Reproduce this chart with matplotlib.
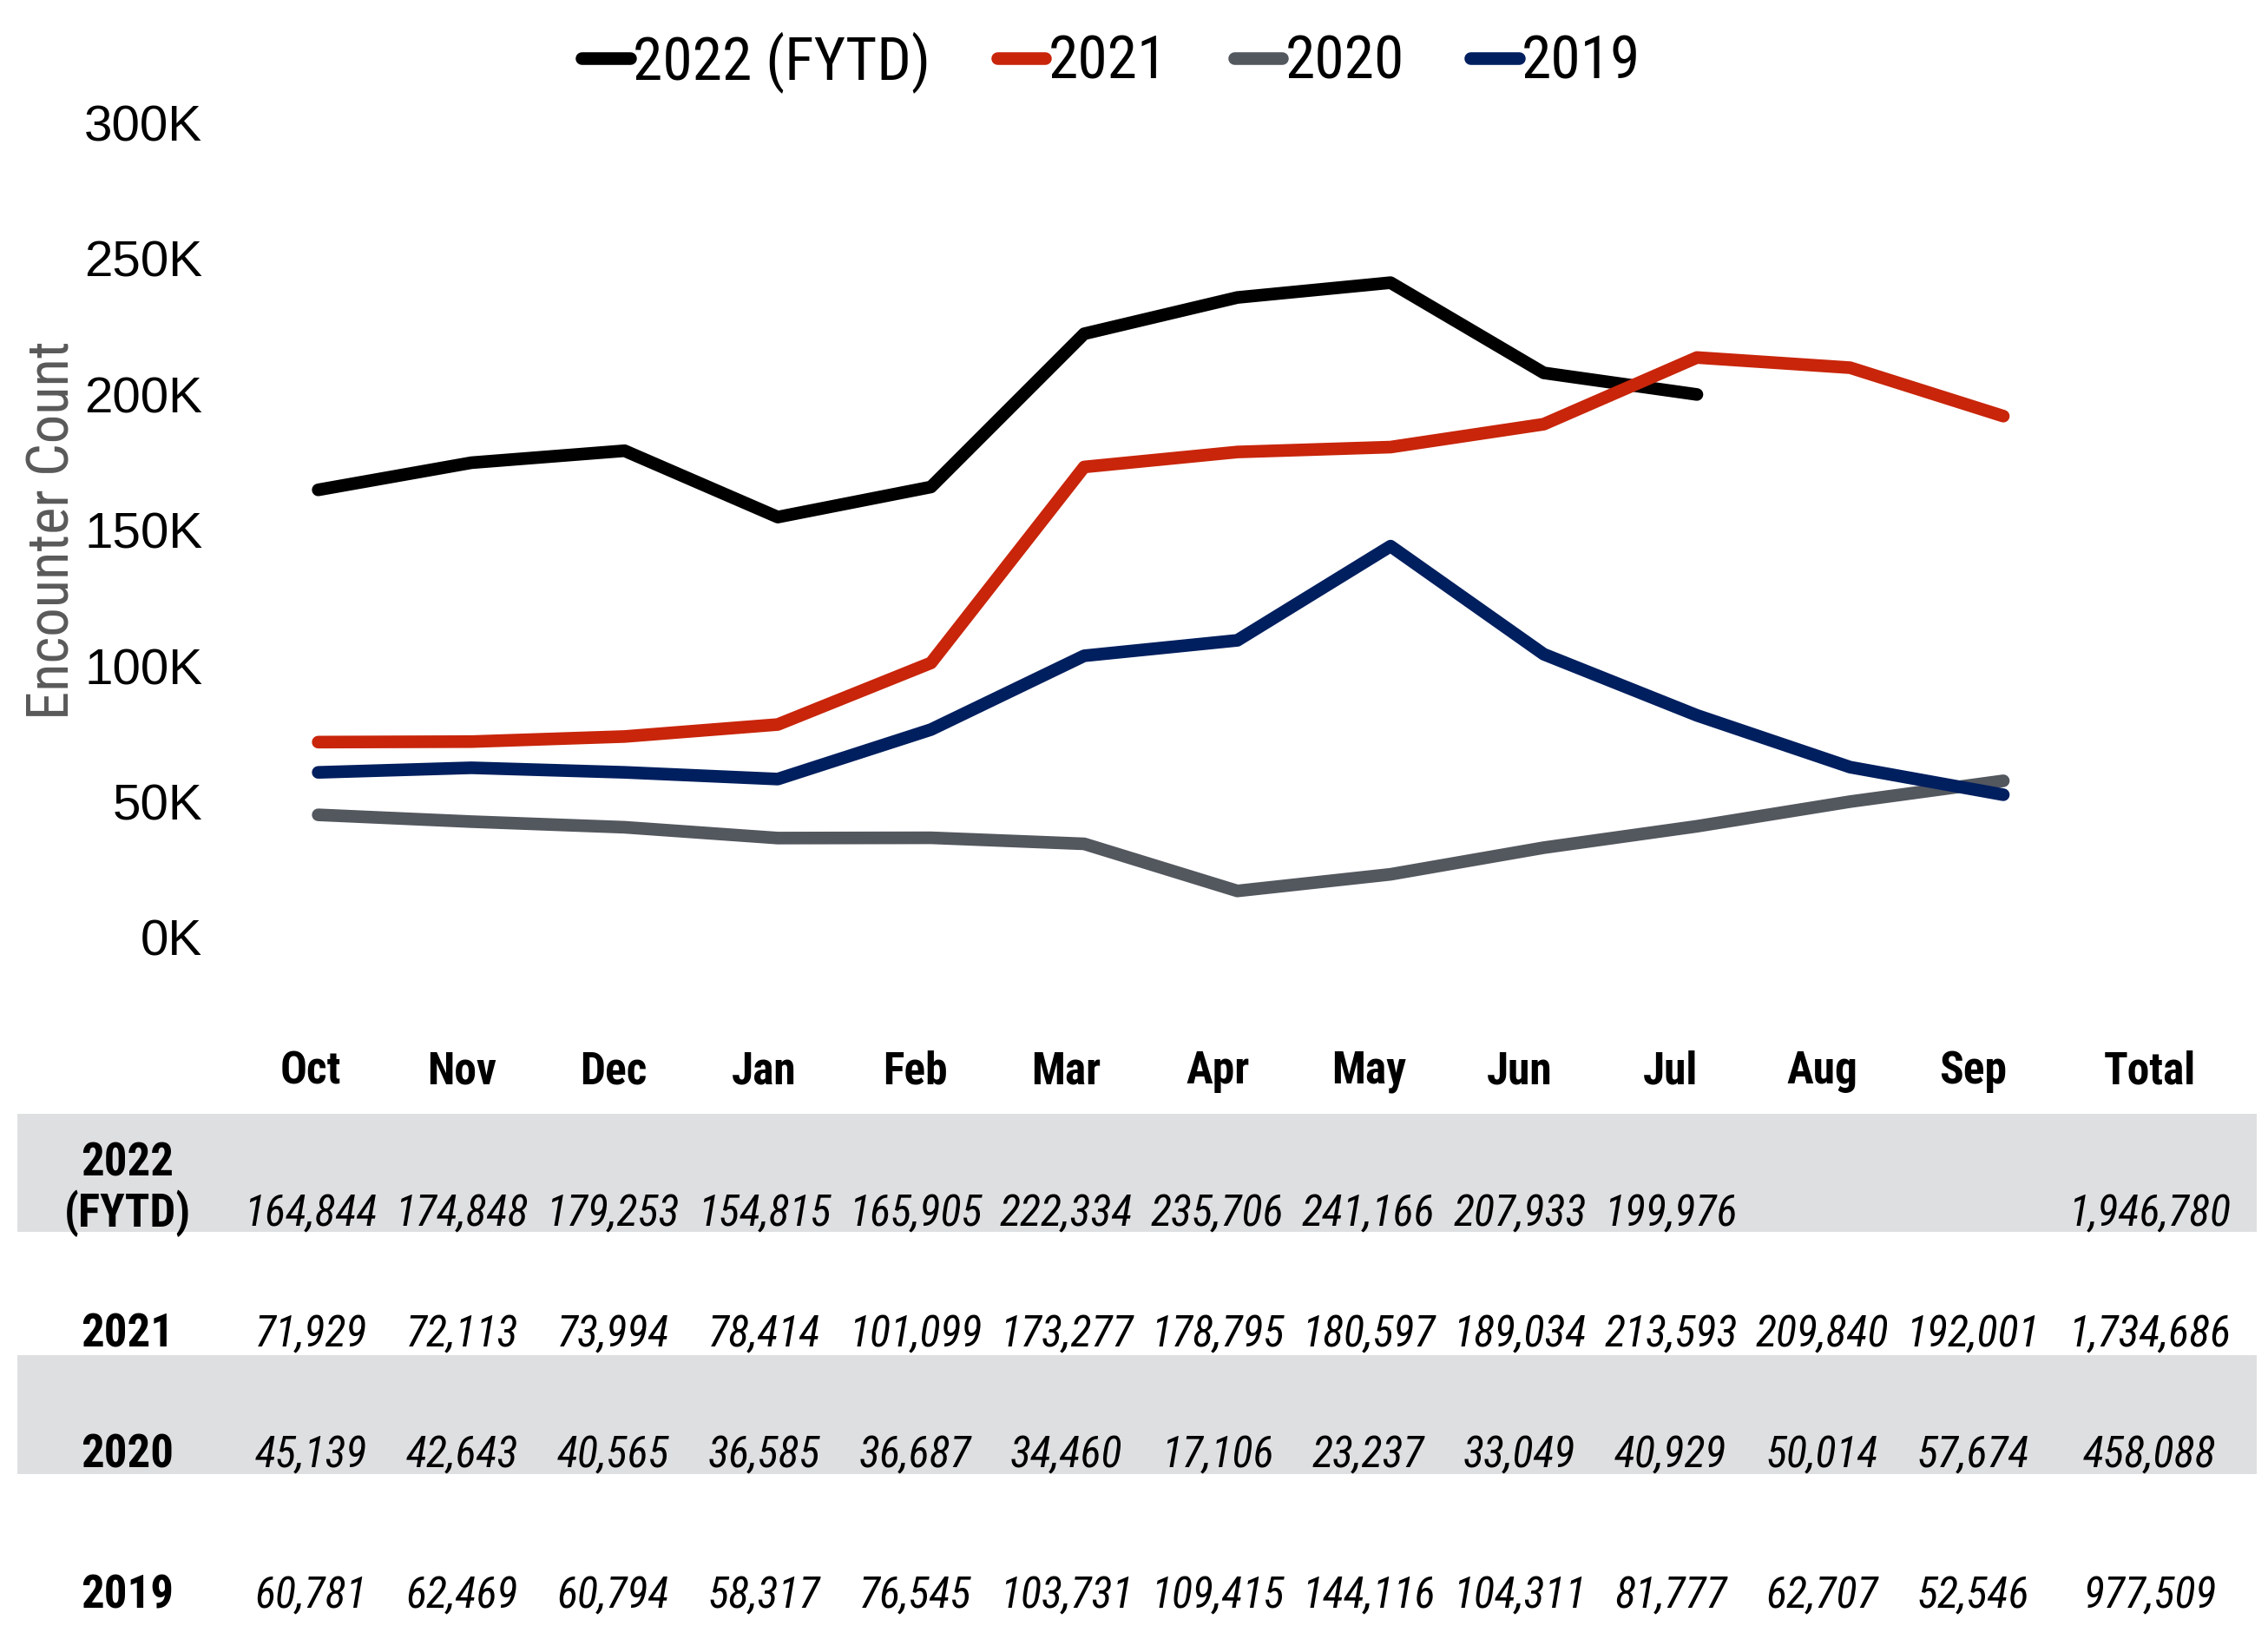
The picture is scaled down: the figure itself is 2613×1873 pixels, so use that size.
import matplotlib
matplotlib.use('Agg')
import matplotlib.pyplot as plt
from matplotlib.ticker import FuncFormatter

# data
months = ['Oct', 'Nov', 'Dec', 'Jan', 'Feb', 'Mar', 'Apr', 'May', 'Jun', 'Jul', 'Aug', 'Sep']
fy2022 = [164844, 174848, 179253, 154815, 165905, 222334, 235706, 241166, 207933, 199976]
fy2021 = [71929, 72113, 73994, 78414, 101099, 173277, 178795, 180597, 189034, 213593, 209840, 192001]
fy2020 = [45139, 42643, 40565, 36585, 36687, 34460, 17106, 23237, 33049, 40929, 50014, 57674]
fy2019 = [60781, 62469, 60794, 58317, 76545, 103731, 109415, 144116, 104311, 81777, 62707, 52546]
series_names = ['2022 (FYTD)', '2021', '2020', '2019']
row_labels = ['2022\n(FYTD)', '2021', '2020', '2019']
colors = ['#000000', '#C8250A', '#53575E', '#001F5F']

NARROW = ['Roboto Condensed', 'Archivo Narrow', 'DejaVu Sans']
WIDE = ['Liberation Sans', 'DejaVu Sans']

fig = plt.figure(figsize=(26.13, 18.73), dpi=100)

# chart
ax = fig.add_axes([0.1403, 0.4235, 0.743, 0.5009])
series = [fy2022, fy2021, fy2020, fy2019]
for vals, name, c in zip(series, series_names, colors):
    ax.plot(range(len(vals)), vals, color=c, lw=10.5, label=name,
            solid_capstyle='round', solid_joinstyle='round', clip_on=False)
ax.set_xlim(0, 11)
ax.set_ylim(0, 300000)
ax.set_yticks(range(0, 300001, 50000))
ax.yaxis.set_major_formatter(FuncFormatter(lambda v, p: f'{int(v / 1000)}K'))
ax.set_xticks([])
ax.tick_params(axis='y', length=0, pad=96)
for t in ax.get_yticklabels():
    t.set_fontfamily(WIDE)
    t.set_fontsize(42)
for s in ax.spines.values():
    s.set_visible(False)
fig.text(0.0236, 0.674, 'Encounter Count', rotation=90, ha='center', va='center',
         fontsize=48, color='#595959', family=NARROW)

leg = fig.legend(loc='center', bbox_to_anchor=(0.49, 0.962), ncol=4, frameon=False,
                 prop={'family': NARROW, 'size': 50}, handlelength=0.8,
                 handletextpad=0.05, columnspacing=1.1)

# table underneath
tab = fig.add_axes([0, 0, 1, 0.38])
tab.set_xlim(-2.058, 12.953)
tab.set_ylim(3.749, -1.365)
tab.axis('off')

headers = months + ['Total']
for i, h in enumerate(headers):
    x = i if h != 'Total' else 12.17
    tab.text(x, -0.84, h, ha='center', va='center', fontsize=37,
             fontweight='bold', family=NARROW)

for r, (lab, vals) in enumerate(zip(row_labels, series)):
    if r % 2 == 0:
        tab.axhspan(r - 0.49, r + 0.49, xmin=(-1.944 + 2.058) / 15.011,
                    xmax=(12.877 + 2.058) / 15.011, color='#DEDFE1', lw=0, zorder=0)
    vy = r + 0.335 if r < 3 else r + 0.495
    ly = 0.13 if r == 0 else vy
    tab.text(-1.215, ly, lab, ha='center', va='center', fontsize=38,
             fontweight='bold', family=NARROW, linespacing=1.12)
    for i, v in enumerate(vals):
        tab.text(i, vy, f'{v:,}', ha='center', va='center', fontsize=36,
                 style='italic', family=NARROW)
    tab.text(12.17, vy, f'{sum(vals):,}', ha='center', va='center', fontsize=36,
             style='italic', family=NARROW)

fig.savefig('out.png', dpi=100)
